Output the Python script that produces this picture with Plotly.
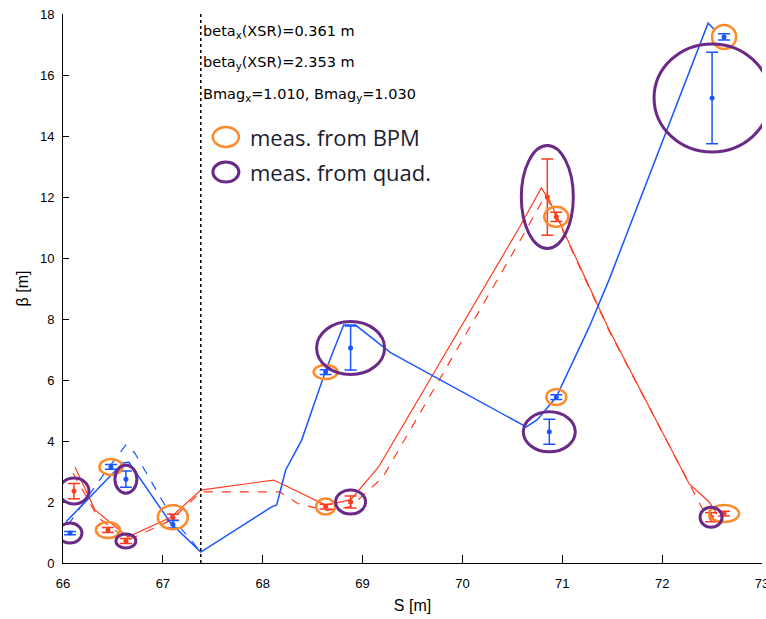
import plotly.graph_objects as go

# ---------------- model optics (lines) ----------------
s_bx_fit = [66.12, 66.32, 66.65, 67.08, 67.38, 68.11, 68.63, 68.88, 69.16, 70.57, 70.79, 70.87, 70.94, 71.27, 71.47, 72.27, 72.47, 72.55]
bx_fit = [3.15, 1.74, 0.85, 1.50, 2.39, 2.72, 1.90, 2.07, 3.15, 11.0, 12.3, 11.9, 11.4, 9.05, 7.64, 2.60, 2.00, 1.60]

s_bx_design = [66.10, 66.35, 66.65, 67.08, 67.38, 68.17, 68.35, 68.63, 68.88, 69.20, 70.60, 70.83, 70.92, 71.47, 72.40, 72.52]
bx_design = [2.95, 1.50, 0.75, 1.40, 2.33, 2.33, 1.95, 1.72, 1.85, 2.80, 10.7, 12.05, 11.5, 7.60, 1.80, 1.50]

s_by_fit = [66.03, 66.60, 66.66, 67.08, 67.38, 68.09, 68.14, 68.23, 68.39, 68.63, 68.81, 68.93, 69.28, 70.64, 70.75, 70.94, 71.27, 71.47, 72.46, 72.52]
by_fit = [1.35, 3.28, 3.30, 1.30, 0.36, 1.84, 1.90, 3.05, 4.03, 6.30, 7.80, 7.80, 6.90, 4.46, 4.70, 5.44, 7.74, 9.30, 17.7, 17.5]

s_by_design = [66.05, 66.45, 66.63, 66.72, 67.10, 67.38]
by_design = [1.25, 3.10, 3.87, 3.60, 1.45, 0.36]

# ---------------- measurements ----------------
s_meas_x = [66.11, 66.45, 66.63, 67.10, 68.63, 68.88, 70.85, 70.94, 72.49, 72.62]
bx_meas = [2.36, 1.08, 0.72, 1.50, 1.85, 2.00, 12.0, 11.35, 1.50, 1.62]
bx_err = [0.25, 0.08, 0.08, 0.10, 0.08, 0.20, 1.25, 0.15, 0.15, 0.08]

s_meas_y = [66.07, 66.48, 66.63, 67.10, 68.63, 68.88, 70.87, 70.94, 72.50, 72.62]
by_meas = [0.98, 3.15, 2.75, 1.27, 6.26, 7.05, 4.30, 5.44, 15.25, 17.25]
by_err = [0.05, 0.08, 0.27, 0.12, 0.08, 0.72, 0.41, 0.08, 1.50, 0.10]

# dotted marker position (XSR)
s_xsr = 67.38

# axis ticks
x_ticks = [66, 67, 68, 69, 70, 71, 72, 73]
y_ticks = [0, 2, 4, 6, 8, 10, 12, 14, 16, 18]

# annotation texts
info_lines = ["beta<sub>x</sub>(XSR)=0.361 m",
              "beta<sub>y</sub>(XSR)=2.353 m",
              "Bmag<sub>x</sub>=1.010, Bmag<sub>y</sub>=1.030"]
legend_labels = ["meas. from BPM", "meas. from quad."]

RED = "#ff3a1e"
BLUE = "#1a55ff"
ORANGE = "#ff8a2a"
PURPLE = "#6b2a88"

fig = go.Figure()

fig.add_trace(go.Scatter(x=s_bx_design, y=bx_design, mode="lines",
                         line=dict(color=RED, width=1.2, dash="dash"), showlegend=False))
fig.add_trace(go.Scatter(x=s_bx_fit, y=bx_fit, mode="lines",
                         line=dict(color=RED, width=1.2), showlegend=False))
fig.add_trace(go.Scatter(x=s_by_design, y=by_design, mode="lines",
                         line=dict(color=BLUE, width=1.2, dash="dash"), showlegend=False))
fig.add_trace(go.Scatter(x=s_by_fit, y=by_fit, mode="lines",
                         line=dict(color=BLUE, width=1.5), showlegend=False))

fig.add_trace(go.Scatter(x=s_meas_x, y=bx_meas, mode="markers",
                         marker=dict(color=RED, size=5),
                         error_y=dict(type="data", array=bx_err, color=RED, thickness=1.5, width=6),
                         showlegend=False))
fig.add_trace(go.Scatter(x=s_meas_y, y=by_meas, mode="markers",
                         marker=dict(color=BLUE, size=5),
                         error_y=dict(type="data", array=by_err, color=BLUE, thickness=1.5, width=6),
                         showlegend=False))

# highlight rings: (plane, index into measurement arrays, pixel width, pixel height, colour)
rings = [
    ("y", 1, 23, 16, ORANGE), ("x", 1, 24, 16, ORANGE), ("x", 3, 30, 24, ORANGE),
    ("y", 4, 24, 14, ORANGE), ("x", 4, 19, 16, ORANGE), ("x", 7, 24, 20, ORANGE),
    ("y", 7, 20, 16, ORANGE), ("y", 9, 24, 24, ORANGE), ("x", 9, 30, 17, ORANGE),
    ("y", 0, 24, 20, PURPLE), ("x", 0, 30, 26, PURPLE), ("y", 2, 22, 28, PURPLE),
    ("x", 2, 20, 14, PURPLE), ("x", 5, 30, 24, PURPLE), ("y", 5, 68, 53, PURPLE),
    ("x", 6, 52, 103, PURPLE), ("y", 6, 52, 40, PURPLE), ("y", 8, 116, 108, PURPLE),
    ("x", 8, 22, 20, PURPLE),
]
shapes = []
for plane, i, w, h, col in rings:
    sx = s_meas_x[i] if plane == "x" else s_meas_y[i]
    sy = bx_meas[i] if plane == "x" else by_meas[i]
    shapes.append(dict(type="circle", xref="x", yref="y", xsizemode="pixel", ysizemode="pixel",
                       xanchor=sx, yanchor=sy, x0=-w / 2, x1=w / 2, y0=-h / 2, y1=h / 2,
                       line=dict(color=col, width=3 if col == PURPLE else 2.5)))

# XSR dotted line
shapes.append(dict(type="line", xref="x", yref="y", x0=s_xsr, x1=s_xsr, y0=0, y1=18,
                   line=dict(color="black", width=1.5, dash="dot")))

# legend rings (paper coords)
for j, col in enumerate([ORANGE, PURPLE]):
    yy = 0.776 - j * 0.064
    shapes.append(dict(type="circle", xref="paper", yref="paper", xsizemode="pixel", ysizemode="pixel",
                       xanchor=0.233, yanchor=yy, x0=-13, x1=13, y0=-10, y1=10,
                       line=dict(color=col, width=3 if col == PURPLE else 2.5)))

annotations = []
for k, t in enumerate(info_lines):
    annotations.append(dict(x=s_xsr + 0.0, y=17.4 - k * 1.02, xref="x", yref="y", text=t,
                            showarrow=False, xanchor="left", yanchor="middle",
                            font=dict(family="DejaVu Sans", size=14.5, color="black")))
for j, t in enumerate(legend_labels):
    annotations.append(dict(x=0.265, y=0.776 - j * 0.064, xref="paper", yref="paper", text=t,
                            showarrow=False, xanchor="left", yanchor="middle",
                            font=dict(family="Open Sans", size=22, color="#1c1c30")))

fig.update_layout(
    width=766, height=619,
    margin=dict(l=63, r=4, t=14, b=56),
    paper_bgcolor="white", plot_bgcolor="white",
    shapes=shapes, annotations=annotations,
    showlegend=False,
    font=dict(family="Liberation Sans Narrow, Liberation Sans, Arial", size=13, color="black"),
)
fig.update_xaxes(range=[66, 73], tickvals=x_ticks, automargin=False, ticklabeloverflow="allow",
                 ticks="inside", ticklen=8, tickcolor="black", showline=True, linecolor="black",
                 linewidth=1, showgrid=False, zeroline=False, mirror=False, ticklabelstandoff=8,
                 title=dict(text="S [m]", standoff=10), tickfont=dict(size=13))
fig.update_yaxes(range=[0, 18], tickvals=y_ticks, automargin=False, ticklabeloverflow="allow",
                 ticks="inside", ticklen=6, tickcolor="black", showline=True, linecolor="black",
                 linewidth=1, showgrid=False, zeroline=False, mirror=False, ticklabelstandoff=5,
                 title=dict(text="β [m]", standoff=7), tickfont=dict(size=13))

fig.write_html("out.html", config={"displayModeBar": False},
               post_script="document.body.style.margin='0px';")
